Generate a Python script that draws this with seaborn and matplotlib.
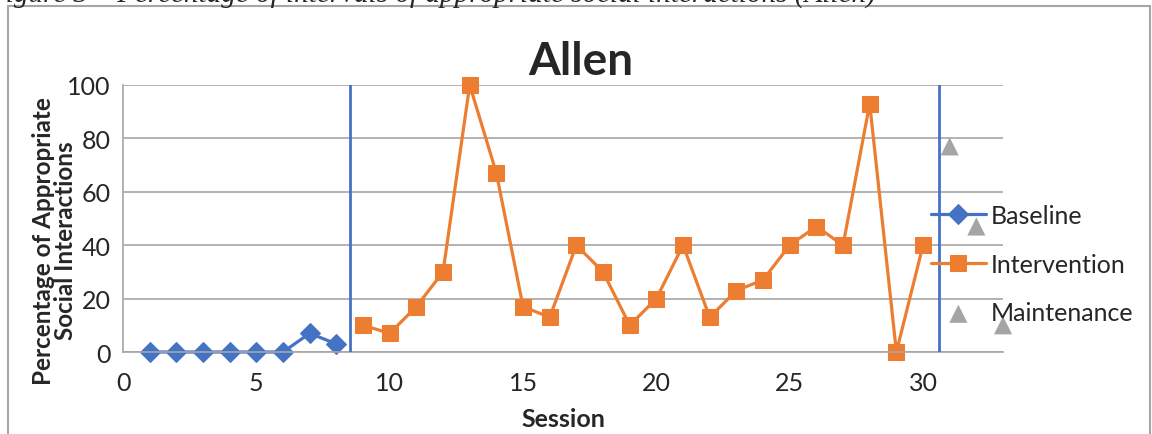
import matplotlib
matplotlib.use("Agg")
import matplotlib.pyplot as plt
import seaborn as sns
import pandas as pd
from matplotlib.patches import Rectangle

# data
baseline_sessions = [1, 2, 3, 4, 5, 6, 7, 8]
baseline_values = [0, 0, 0, 0, 0, 0, 7, 3]
intervention_sessions = list(range(9, 31))
intervention_values = [10, 7, 17, 30, 100, 67, 17, 13, 40, 30, 10, 20,
                       40, 13, 23, 27, 40, 47, 40, 93, 0, 40]
maintenance_sessions = [31, 32, 33]
maintenance_values = [77, 47, 10]
phase_changes = [8.5, 30.6]

BLUE = "#4472C4"
ORANGE = "#ED7D31"
GRAY = "#A5A5A5"

base_df = pd.DataFrame({"Session": baseline_sessions, "Pct": baseline_values})
int_df = pd.DataFrame({"Session": intervention_sessions, "Pct": intervention_values})
maint_df = pd.DataFrame({"Session": maintenance_sessions, "Pct": maintenance_values})

sns.set_style("white")
plt.rcParams["font.family"] = ["Lato", "DejaVu Sans"]

fig = plt.figure(figsize=(11.52, 4.35), dpi=100)
ax = fig.add_axes([0.1068, 0.1885, 0.7639, 0.6138])

sns.lineplot(data=base_df, x="Session", y="Pct", ax=ax, color=BLUE, lw=2.3,
             marker="D", markersize=10, markeredgecolor=BLUE, label="Baseline",
             clip_on=False)
sns.lineplot(data=int_df, x="Session", y="Pct", ax=ax, color=ORANGE, lw=2.3,
             marker="s", markersize=11.5, markeredgecolor=ORANGE, label="Intervention",
             clip_on=False)
sns.scatterplot(data=maint_df, x="Session", y="Pct", ax=ax, color=GRAY,
                marker="^", s=170, edgecolor="none", label="Maintenance", zorder=3,
                clip_on=False)

for xc in phase_changes:
    ax.axvline(xc, color=BLUE, lw=2, zorder=4)

ax.set_xlim(0, 33)
ax.set_ylim(0, 100)
ax.set_xticks([0, 5, 10, 15, 20, 25, 30])
ax.set_yticks([0, 20, 40, 60, 80, 100])
ax.grid(axis="y", color="#A6A6A6", lw=1.2)
ax.set_axisbelow(True)
for side in ["top", "right"]:
    ax.spines[side].set_visible(False)
for side in ["left", "bottom"]:
    ax.spines[side].set_color("#A6A6A6")
    ax.spines[side].set_linewidth(1.2)
ax.tick_params(axis="both", length=6, width=1.2, color="#A6A6A6", labelsize=18)
ax.tick_params(axis="x", pad=8)
ax.tick_params(axis="y", pad=3)

ax.set_xlabel("Session", fontsize=18, fontweight="bold", va="top")
ax.xaxis.set_label_coords(0.5, -0.205)
ax.set_ylabel("Percentage of Appropriate\nSocial Interactions", fontsize=17.5,
              fontweight="bold", linespacing=0.95, va="center")
ax.yaxis.set_label_coords(-0.078, 0.42)
ax.set_title("Allen", fontsize=33, fontweight="bold", pad=8, x=0.52)

leg = ax.legend(loc="upper left", bbox_to_anchor=(0.918, 0.555), frameon=False,
                fontsize=18, handlelength=2.2, labelspacing=1.03, handletextpad=0.2,
                borderpad=0, borderaxespad=0)

# outer chart frame and cut off figure caption
fig.patches.append(Rectangle((8 / 1152, -0.05), 1142 / 1152, 1 - 7 / 435 + 0.05,
                             transform=fig.transFigure, fill=False,
                             edgecolor="#A6A6A6", lw=1.5))
fig.text(-12 / 1152, 1 - 3 / 435,
         "Figure 3 \u2013 Percentage of intervals of appropriate social interactions (Allen)",
         fontsize=21, style="italic", family="Liberation Serif", va="baseline")

fig.savefig("out.png", dpi=100)
